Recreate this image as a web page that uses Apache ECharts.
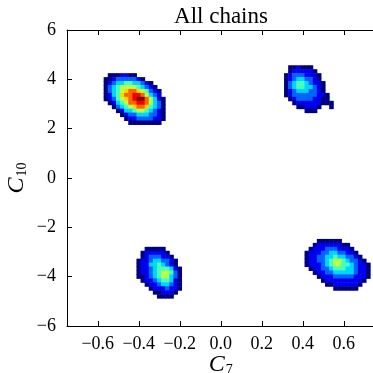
<!DOCTYPE html>
<html>
<head>
<meta charset="utf-8">
<script src="https://cdn.jsdelivr.net/npm/echarts@6/dist/echarts.min.js"></script>
<style>
  html, body { margin: 0; padding: 0; background: #fff; }
  #chart { width: 373px; height: 373px; }
</style>
</head>
<body>
<div id="chart"></div>
<script>
// 2d histogram, 75 x 75 bins over x in [-0.75, 0.75], y in [-6, 6]
const xMin = -0.75
const xMax = 0.75
const yMin = -6
const yMax = 6
const nBins = 75

const xTicks = [-0.6, -0.4, -0.2, 0, 0.2, 0.4, 0.6]
const yTicks = [-6, -4, -2, 0, 2, 4, 6]

// each blob: [first column, top row] + one string per row (top -> bottom)
// '.' = empty bin, digit = density level 0..9
const nwStart = [9, 63]
const nwRows = [
  '.0001100........',
  '0012222210......',
  '012334433210....',
  '0234555543210...',
  '02345677654210..',
  '01346778875321..',
  '012456789975310.',
  '.01345778875320.',
  '..0234567764320.',
  '...013345543210.',
  '....01223332210.',
  '.....0112222110.',
  '......00000000..'
]

const neStart = [53, 65]
const neRows = [
  '.001000......',
  '.0111110.....',
  '012221110....',
  '012332210....',
  '0234432110...',
  '0234433210...',
  '0123332210...',
  '01222222110..',
  '.0122221100..',
  '..0111111000.',
  '...001110..0.',
  '.....000.....'
]

const swStart = [17, 19]
const swRows = [
  '..00000.....',
  '.0111110....',
  '.01222110...',
  '0112332210..',
  '0113343210..',
  '01123444310.',
  '01123455420.',
  '00123455320.',
  '.0112344310.',
  '..011233210.',
  '...01112110.',
  '....001110..',
  '.....0000...'
]

const seStart = [58, 21]
const seRows = [
  '...000000.......',
  '..011111100.....',
  '.01112221110....',
  '0111223322110...',
  '01122334332210..',
  '011223455432210.',
  '0111234554432110',
  '.011223444332110',
  '..01122333332110',
  '...0111222221110',
  '....01111111110.',
  '.....001111110..',
  '.......000000...'
]

const jet = ['#00007f', '#0000ff', '#007fff', '#00ffff', '#7fff7f',
  '#ffff00', '#ff7f00', '#ff0000', '#7f0000']

function addBlob(out, start, rows) {
  rows.forEach(function(row, j) {
    for (let i = 0; i < row.length; i++) {
      const c = row[i]
      if (c !== '.') {
        out.push([start[0] + i, start[1] - j, Number(c)])
      }
    }
  })
}

const cells = []
addBlob(cells, nwStart, nwRows)
addBlob(cells, neStart, neRows)
addBlob(cells, swStart, swRows)
addBlob(cells, seStart, seRows)

const bins = []
for (let i = 0; i < nBins; i++) bins.push(i)

const serif = 'Liberation Serif'
const minus = function(v, d) {
  const s = d ? Math.abs(v).toFixed(d) : String(Math.abs(v))
  return (v < 0 ? '\u2212' : '') + s
}
const nameRich = {
  c: { fontFamily: serif, fontStyle: 'italic', fontSize: 24, color: '#000' },
  s: { fontFamily: serif, fontSize: 14, color: '#000', verticalAlign: 'bottom', padding: [9, 0, 0, 1] }
}
// plot box; the right spine falls just outside the picture
const plot = { left: 67, top: 30, width: 307.5, height: 296, outerBoundsMode: 'none', containLabel: false }
const axisLine = { show: true, onZero: false, lineStyle: { color: '#000', width: 1 } }
const tickStyle = { color: '#000', width: 1 }

const chart = echarts.init(document.getElementById('chart'))
chart.setOption({
  animation: false,
  backgroundColor: '#fff',
  graphic: [{
    type: 'text',
    x: 221,
    y: 17,
    style: {
      text: 'All chains',
      fontFamily: serif,
      fontSize: 23,
      fill: '#000',
      textAlign: 'center',
      textVerticalAlign: 'middle'
    }
  }],
  grid: [
    Object.assign({}, plot),
    Object.assign({}, plot)
  ],
  xAxis: [
    { gridIndex: 0, type: 'category', data: bins, show: false },
    {
      gridIndex: 1,
      type: 'value',
      min: xMin,
      max: xMax,
      position: 'bottom',
      axisLine: axisLine,
      axisTick: { inside: true, length: 5, customValues: xTicks, lineStyle: tickStyle },
      axisLabel: {
        customValues: xTicks,
        margin: 9,
        fontFamily: serif,
        fontSize: 18,
        color: '#000',
        formatter: function(v) { return minus(v, 1) }
      },
      splitLine: { show: false },
      name: '{c|C}{s|7}',
      nameLocation: 'middle',
      nameGap: 27,
      nameMoveOverlap: false,
      nameTextStyle: { rich: nameRich }
    },
    {
      gridIndex: 1,
      type: 'value',
      min: xMin,
      max: xMax,
      position: 'top',
      axisLine: axisLine,
      axisTick: { inside: true, length: 5, customValues: xTicks, lineStyle: tickStyle },
      axisLabel: { show: false },
      splitLine: { show: false }
    }
  ],
  yAxis: [
    { gridIndex: 0, type: 'category', data: bins, show: false },
    {
      gridIndex: 1,
      type: 'value',
      min: yMin,
      max: yMax,
      interval: 2,
      axisLine: axisLine,
      axisTick: { inside: true, length: 5, lineStyle: tickStyle },
      axisLabel: {
        customValues: yTicks,
        margin: 11,
        fontFamily: serif,
        fontSize: 18,
        color: '#000',
        formatter: function(v) { return minus(v, 0) }
      },
      splitLine: { show: false },
      name: '{c|C}{s|10}',
      nameLocation: 'middle',
      nameGap: 38,
      nameMoveOverlap: false,
      nameTextStyle: { rich: nameRich }
    }
  ],
  visualMap: {
    show: false,
    type: 'continuous',
    min: 0,
    max: 9,
    dimension: 2,
    seriesIndex: 0,
    inRange: { color: jet }
  },
  series: [{
    type: 'heatmap',
    xAxisIndex: 0,
    yAxisIndex: 0,
    data: cells,
    silent: true,
    emphasis: { disabled: true },
    progressive: 0
  }]
})
</script>
</body>
</html>
